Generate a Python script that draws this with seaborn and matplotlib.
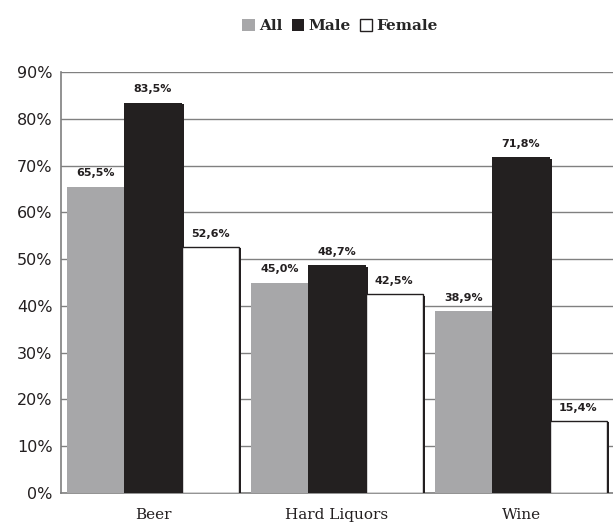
import matplotlib
matplotlib.use("Agg")
import matplotlib.pyplot as plt
import matplotlib.patheffects as pe
from matplotlib.patches import Patch
import seaborn as sns
import pandas as pd

categories = ["Beer", "Hard Liquors", "Wine"]
groups = ["All", "Male", "Female"]
all_vals = [65.5, 45.0, 38.9]
male_vals = [83.5, 48.7, 71.8]
female_vals = [52.6, 42.5, 15.4]
yticks = [0, 10, 20, 30, 40, 50, 60, 70, 80, 90]

df = pd.DataFrame({
    "drink": categories * 3,
    "group": ["All"] * 3 + ["Male"] * 3 + ["Female"] * 3,
    "value": all_vals + male_vals + female_vals,
})

sns.set_style("white")
palette = {"All": "#a7a7a9", "Male": "#231f20", "Female": "#ffffff"}

fig = plt.figure(figsize=(6.13, 5.31), dpi=100)
ax = fig.add_axes([0.0995, 0.0716, 0.9005, 0.7924])

sns.barplot(data=df, x="drink", y="value", hue="group", hue_order=groups,
            order=categories, palette=palette, width=0.93, gap=0,
            legend=False, ax=ax, zorder=3)

# bars carry a dark drop shadow on the right side
shadow = [pe.SimplePatchShadow(offset=(2, -1), shadow_rgbFace="#231f20", alpha=1.0), pe.Normal()]
for patch, g in zip(ax.patches, ["All"] * 3 + ["Male"] * 3 + ["Female"] * 3):
    if g == "Female":
        patch.set_edgecolor("#231f20")
        patch.set_linewidth(1.0)
    else:
        patch.set_edgecolor("none")
    patch.set_path_effects(shadow)

lab_font = ["Liberation Sans Narrow", "DejaVu Sans"]
for cont in ax.containers:
    ax.bar_label(cont, labels=[f"{v:.1f}%".replace(".", ",") for v in cont.datavalues],
                 padding=6, fontsize=8, fontweight="bold", color="#231f20",
                 family=lab_font)

ax.set_ylim(0, 90)
ax.set_xlim(-0.5, 2.5)
ax.set_yticks(yticks)
ax.set_yticklabels([f"{t}%" for t in yticks], family=["Liberation Sans Narrow", "DejaVu Sans"],
                   fontsize=11.5, color="#231f20")
ax.yaxis.grid(True, color="#808080", linewidth=1.0, zorder=0)
ax.set_axisbelow(True)
ax.tick_params(axis="y", length=0, pad=6)

ax.set_xticks([0, 1, 2])
ax.set_xticklabels(categories, family=["DejaVu Serif"], fontsize=11, color="#231f20")
ax.tick_params(axis="x", length=0, pad=11)
ax.set_xticks([-0.5, 0.5, 1.5, 2.5], minor=True)
ax.tick_params(axis="x", which="minor", length=6, width=1.2, color="#7f7f7f", direction="out")

ax.set_xlabel("")
ax.set_ylabel("")
for s in ["top", "right"]:
    ax.spines[s].set_visible(False)
for s in ["left", "bottom"]:
    ax.spines[s].set_color("#7f7f7f")
    ax.spines[s].set_linewidth(1.2)

handles = [Patch(facecolor=palette[g], edgecolor="#231f20" if g == "Female" else "none") for g in groups]
fig.legend(handles, groups, loc="upper center", bbox_to_anchor=(0.555, 0.99), ncol=3,
           frameon=False, handlelength=0.8, handleheight=0.8, handletextpad=0.3,
           columnspacing=0.6, prop={"family": "DejaVu Serif", "weight": "bold", "size": 11})

fig.savefig("out.png", dpi=100)
